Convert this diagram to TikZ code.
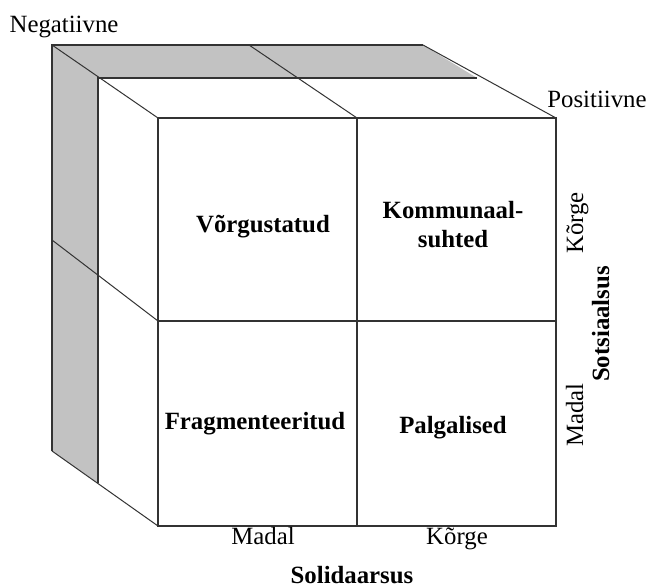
\documentclass[tikz,border=0pt]{standalone}
\usepackage{fontspec}
\setmainfont{Liberation Serif}
\begin{document}
\begin{tikzpicture}[x=0.5pt,y=-0.5pt,
  frame/.style={draw=black!80, line width=0.75pt},
  edge/.style={draw=black!80, line width=0.5pt},
  label/.style={font=\fontsize{12.4}{14.5}\selectfont, inner sep=0pt, anchor=base},
  cell/.style={font=\fontsize{12.4}{14.5}\selectfont\bfseries, inner sep=0pt, anchor=base},
  axis/.style={font=\fontsize{12.4}{14.5}\selectfont\bfseries, inner sep=0pt, anchor=base}]
\useasboundingbox (0,0) rectangle (649,587);
\fill[white] (0,0) rectangle (649,587);

% corners of the back, middle and front layers
\coordinate (b1) at (52,45);   \coordinate (b2) at (423,45);
\coordinate (b3) at (52,451);  \coordinate (bm) at (249,45);
\coordinate (bl) at (52,240);
\coordinate (m1) at (98,78);   \coordinate (m2) at (477,78);
\coordinate (m3) at (98,483);
\coordinate (f1) at (158,118); \coordinate (f2) at (556,118);
\coordinate (f3) at (158,526); \coordinate (f4) at (556,526);
\coordinate (fm) at (357,118); \coordinate (fmb) at (357,526);
\coordinate (fl) at (158,321); \coordinate (fr) at (556,321);

% shaded back strip (top and left)
\fill[gray!48] (b1) -- (b2) -- (m2) -- (m1) -- (m3) -- (b3) -- cycle;

% back layer edges
\draw[frame] (b3) -- (b1) -- (b2);
\draw[frame] (m3) -- (m1) -- (m2);

% receding edges
\draw[edge] (b1) -- (f1);
\draw[edge] (bm) -- (fm);
\draw[edge] (b2) -- (f2);
\draw[edge] (bl) -- (fl);
\draw[edge] (b3) -- (f3);

% front face and its quadrants
\draw[frame] (f1) rectangle (f4);
\draw[frame] (fm) -- (fmb);
\draw[frame] (fl) -- (fr);

% cell labels (positions are baselines)
\node[cell] (q1) at (263,233) {Võrgustatud};
\node[cell] (q2a) at (453,219) {Kommunaal-};
\node[cell] (q2b) at (453,248) {suhted};
\node[cell] (q3) at (255,430) {Fragmenteeritud};
\node[cell] (q4) at (453,434) {Palgalised};

% axis labels
\node[label] (neg) at (64,33) {Negatiivne};
\node[label] (pos) at (597,108) {Positiivne};
\node[label] (xlo) at (263,545) {Madal};
\node[label] (xhi) at (457,545) {Kõrge};
\node[axis]  (xax) at (352,584) {Solidaarsus};
\node[label, rotate=90] (yhi) at (583,223) {Kõrge};
\node[label, rotate=90] (ylo) at (583,415) {Madal};
\node[axis, rotate=90]  (yax) at (609,324) {Sotsiaalsus};
\end{tikzpicture}
\end{document}
